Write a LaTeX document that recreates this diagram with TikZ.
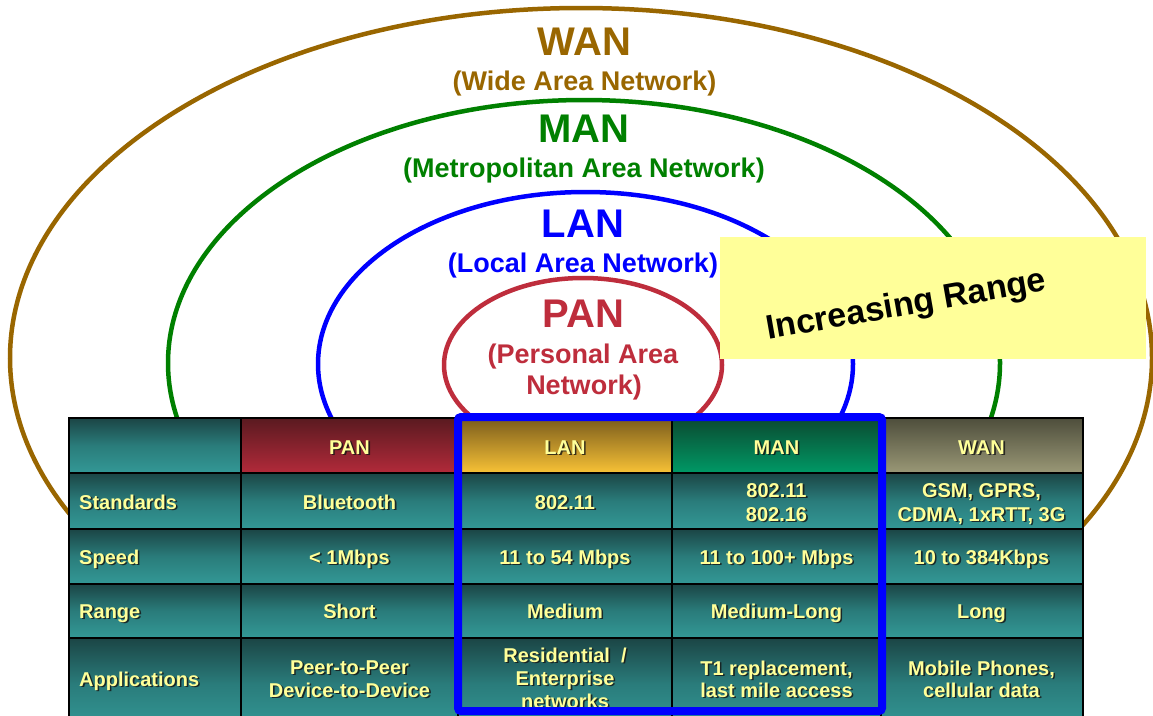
\documentclass[tikz,border=0pt]{standalone}
\usepackage{fontspec}
\setmainfont{Liberation Sans}
\definecolor{wanc}{HTML}{996600}
\definecolor{manc}{HTML}{008000}
\definecolor{lanc}{HTML}{0000FF}
\definecolor{panc}{HTML}{BE2D3C}
\definecolor{boxy}{HTML}{FFFF99}
\definecolor{celltxt}{HTML}{FFFF99}
\definecolor{shadowc}{HTML}{141414}
\definecolor{tealtop}{HTML}{1B4545}
\definecolor{tealmid}{HTML}{2A7C7B}
\definecolor{tealbot}{HTML}{339896}
\definecolor{pantop}{HTML}{5A1A20}
\definecolor{panbot}{HTML}{B22A3A}
\definecolor{lantop}{HTML}{7A5C1C}
\definecolor{lanbot}{HTML}{F8C236}
\definecolor{mantop}{HTML}{0B4A30}
\definecolor{manbot}{HTML}{009966}
\definecolor{wantop}{HTML}{4E4E3C}
\definecolor{wanbot}{HTML}{9A9876}
\newcommand\tabtext[5]{%
  \node[cshadow,#1] (#2s) at (#3+1.6,#4+1.6) {#5};
  \node[ctext,#1] (#2) at (#3,#4) {#5};}
\begin{document}
\begin{tikzpicture}[x=1pt,y=-1pt,
  big/.style={anchor=base, inner sep=0pt, font=\bfseries\fontsize{40}{40}\selectfont},
  sub/.style={anchor=base, inner sep=0pt, font=\bfseries\fontsize{27}{27}\selectfont},
  ring/.style={line width=4.5pt},
  ctext/.style={anchor=base, inner sep=0pt, font=\bfseries\fontsize{20}{23}\selectfont, text=celltxt},
  cshadow/.style={ctext, text=shadowc, opacity=0.8},
  cellfill/.style={top color=tealtop, bottom color=tealbot, middle color=tealmid},
  gridline/.style={draw=black, line width=2pt}]
\useasboundingbox (0,0) rectangle (1153,715);
\fill[white] (0,0) rectangle (1153,715);
% rings
\draw[ring, wanc] (581,358) ellipse [x radius=571pt, y radius=350pt];
\draw[ring, manc] (584,363) ellipse [x radius=416pt, y radius=263pt];
\draw[ring, lanc] (585.5,364) ellipse [x radius=267.5pt, y radius=172pt];
\draw[ring, panc] (583,365) ellipse [x radius=139pt, y radius=87pt];
% ring labels
\node[big, text=wanc] (wanT) at (584.5,55) {WAN};
\node[sub, text=wanc] (wanS) at (584.5,90) {(Wide Area Network)};
\node[big, text=manc] (manT) at (584,142) {MAN};
\node[sub, text=manc] (manS) at (584,177) {(Metropolitan Area Network)};
\node[big, text=lanc] (lanT) at (583,237) {LAN};
\node[sub, text=lanc] (lanS) at (583,272) {(Local Area Network)};
\node[big, text=panc] (panT) at (583.5,327) {PAN};
\node[sub, text=panc] (panS1) at (583,363) {(Personal Area};
\node[sub, text=panc] (panS2) at (584,394) {Network)};
% increasing range box
\node[fill=boxy, minimum width=426pt, minimum height=122pt, inner sep=0pt] (rbox) at (933,298) {};
\node[anchor=base, rotate=10, inner sep=0pt, font=\bfseries\fontsize{34}{34}\selectfont] (rtxt) at (908,315) {Increasing Range};
% table background
\foreach \ya/\yb in {418/473,473/529,529/584,584/638,638/730}
  \shade[cellfill] (69,\ya) rectangle (1083,\yb);
\shade[top color=pantop, bottom color=panbot] (241,418) rectangle (458,473);
\shade[top color=lantop, bottom color=lanbot] (458,418) rectangle (672,473);
\shade[top color=mantop, bottom color=manbot] (672,418) rectangle (881,473);
\shade[top color=wantop, bottom color=wanbot] (881,418) rectangle (1083,473);
\draw[gridline] (69,418) rectangle (1083,730);
\foreach \yy in {473,529,584,638} \draw[gridline] (69,\yy) -- (1083,\yy);
\foreach \xx in {241,458,672,881} \draw[gridline] (\xx,418) -- (\xx,730);
% header
\tabtext{}{hPAN}{349.5}{454}{PAN}
\tabtext{}{hLAN}{565}{454}{LAN}
\tabtext{}{hMAN}{776.5}{454}{MAN}
\tabtext{}{hWAN}{981.5}{454}{WAN}
% row labels
\tabtext{anchor=base west}{rStd}{79}{509}{Standards}
\tabtext{anchor=base west}{rSpd}{79}{564}{Speed}
\tabtext{anchor=base west}{rRng}{79}{618}{Range}
\tabtext{anchor=base west}{rApp}{79}{686}{Applications}
% PAN column
\tabtext{}{p1}{349.5}{509}{Bluetooth}
\tabtext{}{p2}{349.5}{564}{< 1Mbps}
\tabtext{}{p3}{349.5}{618}{Short}
\tabtext{}{p4a}{349.5}{674}{Peer-to-Peer}
\tabtext{}{p4b}{349.5}{697}{Device-to-Device}
% LAN column
\tabtext{}{l1}{565}{509}{802.11}
\tabtext{}{l2}{565}{564}{11 to 54 Mbps}
\tabtext{}{l3}{565}{618}{Medium}
\tabtext{}{l4a}{565}{662}{Residential\ \ /}
\tabtext{}{l4b}{565}{685}{Enterprise}
\tabtext{}{l4c}{565}{708}{networks}
% MAN column
\tabtext{}{m1a}{776.5}{497}{802.11}
\tabtext{}{m1b}{776.5}{521}{802.16}
\tabtext{}{m2}{776.5}{564}{11 to 100+ Mbps}
\tabtext{}{m3}{776.5}{618}{Medium-Long}
\tabtext{}{m4a}{776.5}{675}{T1 replacement,}
\tabtext{}{m4b}{776.5}{697}{last mile access}
% WAN column
\tabtext{}{w1a}{981.5}{497}{GSM, GPRS,}
\tabtext{}{w1b}{981.5}{521}{CDMA, 1xRTT, 3G}
\tabtext{}{w2}{981.5}{564}{10 to 384Kbps}
\tabtext{}{w3}{981.5}{618}{Long}
\tabtext{}{w4a}{981.5}{675}{Mobile Phones,}
\tabtext{}{w4b}{981.5}{697}{cellular data}
% blue highlight frame
\draw[line width=8pt, lanc, rounded corners=3pt] (458,417) rectangle (882,711);
\end{tikzpicture}
\end{document}
